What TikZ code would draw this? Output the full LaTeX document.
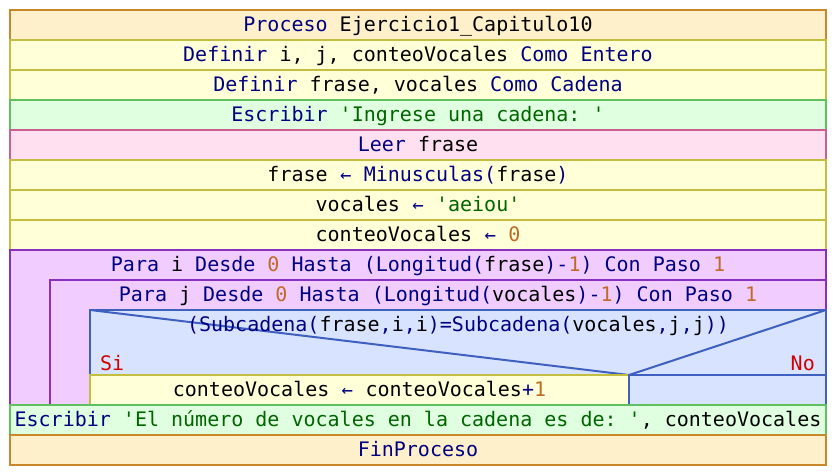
\documentclass[tikz,border=0pt]{standalone}
\usepackage{fontspec}
\setmonofont{DejaVu Sans Mono}

% box colours
\definecolor{procFill}{HTML}{FFF0CC}
\definecolor{procLine}{HTML}{C8882A}
\definecolor{asgFill}{HTML}{FFFFD8}
\definecolor{asgLine}{HTML}{C4BE40}
\definecolor{outFill}{HTML}{E0FFE0}
\definecolor{outLine}{HTML}{60C060}
\definecolor{inFill}{HTML}{FFE0F0}
\definecolor{inLine}{HTML}{C86090}
\definecolor{forFill}{HTML}{F0CCFF}
\definecolor{forLine}{HTML}{8A30C0}
\definecolor{ifFill}{HTML}{D8E4FF}
\definecolor{ifLine}{HTML}{4060C0}
% text colours
\definecolor{kwColor}{HTML}{000080}
\definecolor{strColor}{HTML}{006400}
\definecolor{numColor}{HTML}{C06A28}
\definecolor{branchColor}{HTML}{D00000}

\newcommand\kw[1]{\textcolor{kwColor}{#1}}
\newcommand\sv[1]{\textcolor{strColor}{#1}}
\newcommand\nm[1]{\textcolor{numColor}{#1}}
\newcommand\asg{\textcolor{kwColor}{\makebox[12.04pt]{\fontsize{19}{19}\selectfont ←}}}

\begin{document}
\begin{tikzpicture}[x=1pt,y=-1pt,
  every node/.style={font=\ttfamily\fontsize{20}{24}\selectfont},
  box/.style={line width=2pt},
  row/.style={box, draw, minimum width=816pt, minimum height=30pt,
    inner sep=0pt, text height=15pt, text depth=1.6pt},
  proc/.style={row, fill=procFill, draw=procLine},
  asgrow/.style={row, fill=asgFill, draw=asgLine},
  outrow/.style={row, fill=outFill, draw=outLine},
  inrow/.style={row, fill=inFill, draw=inLine},
  label/.style={anchor=base, inner sep=0pt},
  branch/.style={anchor=base, inner sep=0pt, text=branchColor}]

\useasboundingbox (0,0) rectangle (836,476);

% sequential statements
\node[proc]   (begin)   at (418,25)  {\kw{Proceso} Ejercicio1\_Capitulo10};
\node[asgrow] (defint)  at (418,55)  {\kw{Definir} i, j, conteoVocales \kw{Como Entero}};
\node[asgrow] (defstr)  at (418,85)  {\kw{Definir} frase, vocales \kw{Como Cadena}};
\node[outrow] (prompt)  at (418,115) {\kw{Escribir} \sv{'Ingrese una cadena: '}};
\node[inrow]  (read)    at (418,145) {\kw{Leer} frase};
\node[asgrow] (lower)   at (418,175) {frase \asg{} \kw{Minusculas(}frase\kw{)}};
\node[asgrow] (setvoc)  at (418,205) {vocales \asg{} \sv{'aeiou'}};
\node[asgrow] (zero)    at (418,235) {conteoVocales \asg{} \nm{0}};

% outer loop
\draw[box, fill=forFill, draw=forLine] (10,250) rectangle (826,405);
\node[label] (fori) at (418,271.7)
  {\kw{Para} i \kw{Desde} \nm{0} \kw{Hasta} \kw{(Longitud(}frase\kw{)-}\nm{1}\kw{)} \kw{Con Paso} \nm{1}};

% inner loop
\draw[box, fill=forFill, draw=forLine] (50,280) rectangle (826,405);
\node[label] (forj) at (438,301.7)
  {\kw{Para} j \kw{Desde} \nm{0} \kw{Hasta} \kw{(Longitud(}vocales\kw{)-}\nm{1}\kw{)} \kw{Con Paso} \nm{1}};

% decision
\draw[box, fill=ifFill, draw=ifLine] (90,310) rectangle (826,405);
\coordinate (tl) at (90,310);
\coordinate (tr) at (826,310);
\coordinate (split) at (629,375);
\draw[box, draw=ifLine] (tl) -- (split) -- (tr);
\node[label] (cond) at (458,331.7)
  {\kw{(Subcadena(}frase\kw{,}i\kw{,}i\kw{)=Subcadena(}vocales\kw{,}j\kw{,}j\kw{))}};
\node[branch, anchor=base west] (yes) at (100,370.7) {Si};
\node[branch, anchor=base east] (no)  at (815,370.7) {No};

% branches
\draw[box, fill=asgFill, draw=asgLine] (90,375) rectangle (629,405);
\node[label] (incr) at (359.5,396.7) {conteoVocales \asg{} conteoVocales\kw{+}\nm{1}};
\draw[box, fill=ifFill, draw=ifLine] (629,375) rectangle (826,405);

% closing statements
\node[outrow] (result) at (418,420)
  {\kw{Escribir} \sv{'El número de vocales en la cadena es de: '}, conteoVocales};
\node[proc] (finish) at (418,450) {\kw{FinProceso}};
\end{tikzpicture}
\end{document}
